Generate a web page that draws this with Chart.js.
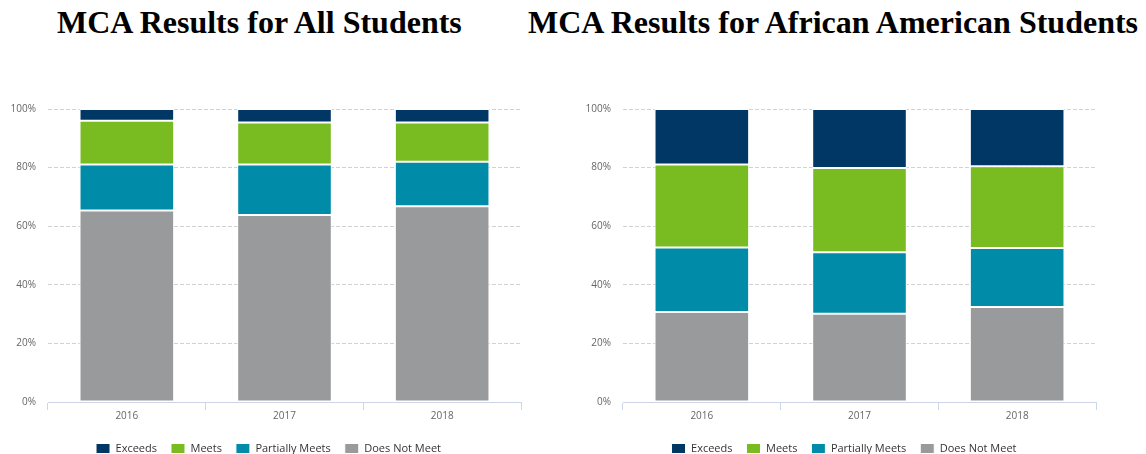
<!DOCTYPE html>
<html>
<head>
<meta charset="utf-8">
<script src="https://cdn.jsdelivr.net/npm/chart.js@4.4.0/dist/chart.umd.min.js"></script>
<style>
  html, body { margin: 0; padding: 0; background: #fff; width: 1146px; height: 454px; overflow: hidden; }
  .title { position: absolute; top: 6px; font-family: "Liberation Serif", "Times New Roman", serif; font-weight: bold; font-size: 32px; line-height: 32px; color: #000; white-space: nowrap; }
  .box { position: absolute; top: 95px; height: 369px; }
</style>
</head>
<body>
<div class="title" style="left:57px;">MCA Results for All Students</div>
<div class="title" style="left:528px;">MCA Results for African American Students</div>
<div class="box" style="left:0px; width:537px;"><canvas id="c1"></canvas></div>
<div class="box" style="left:572px; width:544px;"><canvas id="c2"></canvas></div>
<script>
const years = ['2016', '2017', '2018'];
const seriesNames = ['Does Not Meet', 'Partially Meets', 'Meets', 'Exceeds'];
const seriesColors = ['#999a9c', '#008ca9', '#78bc21', '#003764'];
const yTickValues = [0, 20, 40, 60, 80, 100];

const allDoesNotMeet = [65.4, 63.8, 66.8];
const allPartiallyMeets = [15.7, 17.3, 15.2];
const allMeets = [14.9, 14.3, 13.4];
const allExceeds = [4.0, 4.6, 4.6];

const aaDoesNotMeet = [30.7, 30.1, 32.4];
const aaPartiallyMeets = [22.0, 21.0, 20.2];
const aaMeets = [28.4, 28.8, 27.9];
const aaExceeds = [18.9, 20.1, 19.5];

// shifts the legend block horizontally after layout
const legendShift = {
  id: 'legendShift',
  afterLayout(chart, args, opts) {
    const lg = chart.legend;
    if (lg && opts.dx) { lg.left += opts.dx; lg.right += opts.dx; }
  }
};

function makeChart(id, seriesValues, axisWidth, padRight, legendDx) {
  const datasets = seriesValues.map((vals, i) => ({
    label: seriesNames[i],
    data: vals,
    backgroundColor: seriesColors[i],
    borderColor: '#ffffff',
    borderWidth: 1,
    borderSkipped: false,
    barPercentage: 0.6,
    categoryPercentage: 1.0
  }));
  return new Chart(document.getElementById(id), {
    type: 'bar',
    data: { labels: years, datasets },
    plugins: [legendShift],
    options: {
      responsive: true,
      maintainAspectRatio: false,
      animation: false,
      layout: { padding: { top: 14, right: padRight, left: 0, bottom: 0 } },
      plugins: {
        tooltip: { enabled: false },
        legendShift: { dx: legendDx },
        legend: {
          position: 'bottom',
          reverse: true,
          labels: {
            boxWidth: 14,
            boxHeight: 10,
            padding: 14,
            color: '#333333',
            font: { family: '"Open Sans", sans-serif', size: 11 }
          }
        }
      },
      scales: {
        x: {
          stacked: true,
          afterFit: (scale) => { scale.height = 27; },
          grid: {
            display: true,
            offset: true,
            drawOnChartArea: false,
            drawTicks: true,
            tickLength: 8,
            color: '#ccd6eb'
          },
          border: { display: true, color: '#ccd6eb', width: 1 },
          ticks: {
            color: '#666666',
            padding: 0,
            font: { family: '"Open Sans", sans-serif', size: 10 }
          }
        },
        y: {
          stacked: true,
          min: 0,
          max: 100,
          afterBuildTicks: (scale) => { scale.ticks = yTickValues.map(v => ({ value: v })); },
          afterFit: (scale) => { scale.width = axisWidth; },
          grid: {
            drawTicks: true,
            tickLength: 12,
            tickColor: 'rgba(0,0,0,0)',
            color: (ctx) => ctx.tick && ctx.tick.value === 0 ? 'rgba(0,0,0,0)' : '#d2d2d2',
            lineWidth: 1
          },
          border: { display: false, dash: [4, 2] },
          ticks: {
            color: '#666666',
            padding: 0,
            font: { family: '"Open Sans", sans-serif', size: 10 },
            callback: (v) => v + '%'
          }
        }
      }
    }
  });
}

makeChart('c1', [allDoesNotMeet, allPartiallyMeets, allMeets, allExceeds], 48, 16, 8);
makeChart('c2', [aaDoesNotMeet, aaPartiallyMeets, aaMeets, aaExceeds], 51, 20, 10);
</script>
</body>
</html>
